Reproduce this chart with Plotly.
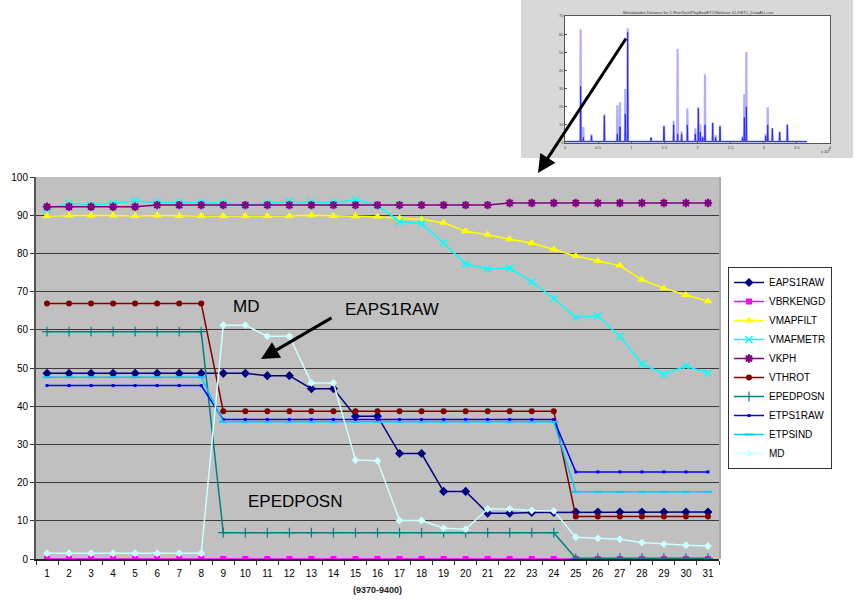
import plotly.graph_objects as go

# ---------------- data ----------------
categories = ["1", "2", "3", "4", "5", "6", "7", "8", "9", "10", "11", "12", "13", "14", "15", "16",
              "17", "18", "19", "20", "21", "22", "23", "24", "25", "26", "27", "28", "29", "30", "31"]

EAPS1RAW = [48.6, 48.6, 48.6, 48.6, 48.6, 48.6, 48.6, 48.6, 48.6, 48.6, 48.0, 48.0, 44.6, 44.6, 37.4, 37.4,
            27.6, 27.6, 17.7, 17.7, 12.0, 12.0, 12.2, 12.2, 12.3, 12.3, 12.3, 12.3, 12.3, 12.3, 12.3]
VBRKENGD = [0, 0, 0, 0, 0, 0, 0, 0, 0, 0, 0, 0, 0, 0, 0, 0,
            0, 0, 0, 0, 0, 0, 0, 0, 0, 0, 0, 0, 0, 0, 0]
VMAPFILT = [89.8, 89.9, 89.9, 89.9, 89.8, 89.9, 89.8, 89.8, 89.8, 89.8, 89.8, 89.8, 90.0, 89.8, 89.7, 89.6,
            89.2, 88.9, 88.0, 85.8, 84.9, 83.7, 82.7, 81.0, 79.3, 78.0, 76.8, 73.1, 70.9, 69.1, 67.5]
VMAFMETR = [91.6, 93.1, 92.6, 93.1, 93.7, 93.4, 93.3, 93.3, 93.2, 92.7, 93.1, 93.6, 93.4, 93.3, 94.0, 92.7,
            88.3, 87.8, 82.7, 77.2, 75.9, 76.1, 72.6, 68.2, 63.2, 63.6, 58.3, 51.1, 48.4, 50.5, 48.7]
VKPH = [92.2, 92.2, 92.2, 92.2, 92.2, 92.65, 92.65, 92.65, 92.65, 92.65, 92.65, 92.65, 92.65, 92.65, 92.65, 92.65,
        92.65, 92.65, 92.65, 92.65, 92.65, 93.2, 93.2, 93.2, 93.2, 93.2, 93.2, 93.2, 93.2, 93.2, 93.2]
VTHROT = [66.9, 66.9, 66.9, 66.9, 66.9, 66.9, 66.9, 66.9, 38.7, 38.7, 38.7, 38.7, 38.7, 38.7, 38.7, 38.7,
          38.7, 38.7, 38.7, 38.7, 38.7, 38.7, 38.7, 38.7, 11.1, 11.1, 11.1, 11.1, 11.1, 11.1, 11.1]
EPEDPOSN = [59.5, 59.5, 59.5, 59.5, 59.5, 59.5, 59.5, 59.5, 6.9, 6.9, 6.9, 6.9, 6.9, 6.9, 6.9, 6.9,
            6.9, 6.9, 6.9, 6.9, 6.9, 6.9, 6.9, 6.9, 0.2, 0.2, 0.2, 0.2, 0.2, 0.2, 0.2]
ETPS1RAW = [45.4, 45.4, 45.4, 45.4, 45.4, 45.4, 45.4, 45.4, 36.5, 36.5, 36.5, 36.5, 36.5, 36.5, 36.5, 36.5,
            36.5, 36.5, 36.5, 36.5, 36.5, 36.5, 36.5, 36.5, 22.8, 22.8, 22.8, 22.8, 22.8, 22.8, 22.8]
ETPSIND = [47.6, 47.6, 47.6, 47.6, 47.6, 47.6, 47.6, 47.6, 35.9, 35.9, 35.9, 35.9, 35.9, 35.9, 35.9, 35.9,
           35.9, 35.9, 35.9, 35.9, 35.9, 35.9, 35.9, 35.9, 17.6, 17.6, 17.6, 17.6, 17.6, 17.6, 17.6]
MD = [1.5, 1.5, 1.5, 1.5, 1.5, 1.5, 1.5, 1.5, 61.2, 61.2, 58.3, 58.3, 46.1, 46.1, 25.9, 25.7,
      10.1, 10.1, 8.05, 7.8, 13.1, 13.1, 12.7, 12.6, 5.7, 5.4, 5.2, 4.3, 3.9, 3.6, 3.4]

y_ticks = [0, 10, 20, 30, 40, 50, 60, 70, 80, 90, 100]
x_title = "(9370-9400)"

# inset (Mahalanobis distance screenshot) spikes
inset_peak_x = [0.236, 0.277, 0.40, 0.594, 0.79, 0.83, 0.91, 0.946, 1.30, 1.494, 1.64, 1.70, 1.76, 1.847, 1.967,
                2.013, 2.043, 2.08, 2.113, 2.229, 2.274, 2.34, 2.68, 2.707, 2.737, 3.03, 3.06, 3.13, 3.24, 3.356]
inset_peak_hi = [62.6, 8.8, 4.8, 15.8, 20.8, 22.5, 29.8, 63.2, 3.3, 9.8, 12.2, 51.9, 6.4, 19.0, 8.1,
                 19.7, 10.3, 3.7, 37.9, 11.4, 4.4, 9.8, 3.7, 26.9, 50.1, 5.2, 19.7, 8.1, 6.4, 10.3]
inset_peak_lo = [31.3, 3.0, 4.0, 15.0, 5.0, 9.0, 16.0, 61.0, 3.0, 9.0, 10.0, 5.0, 5.0, 10.0, 5.0,
                 19.0, 6.0, 3.0, 10.0, 11.0, 3.0, 9.0, 3.0, 14.0, 20.0, 4.0, 10.0, 8.0, 6.0, 10.0]
inset_base = 0.8
inset_end = 3.65
inset_title = "Mahalanobis Distance for C:\\FunTech\\PlayBox\\ETC\\Release 12.2\\ETC_DataALL.csv"


def spikes(heights):
    xs, ys = [0.0], [inset_base]
    for pk, h in zip(inset_peak_x, heights):
        xs += [pk - 0.006, pk, pk + 0.006]
        ys += [inset_base, h, inset_base]
    xs.append(inset_end)
    ys.append(inset_base)
    return xs, ys


# ---------------- figure ----------------
W, H = 854, 600
FONT = "Liberation Sans, Arial, sans-serif"


def px(x):
    return x / W


def py(y):
    return 1 - y / H


series = [
    ("EAPS1RAW", EAPS1RAW, "#000080", dict(symbol="diamond", size=7)),
    ("VBRKENGD", VBRKENGD, "#FF00FF", dict(symbol="square", size=6)),
    ("VMAPFILT", VMAPFILT, "#FFFF00", dict(symbol="triangle-up", size=8)),
    ("VMAFMETR", VMAFMETR, "#00FFFF", dict(symbol="x-thin-open", size=7, line=dict(width=1.5, color="#00FFFF"))),
    ("VKPH", VKPH, "#800080", dict(symbol="asterisk-open", size=7, line=dict(width=2, color="#800080"))),
    ("VTHROT", VTHROT, "#800000", dict(symbol="circle", size=6)),
    ("EPEDPOSN", EPEDPOSN, "#008080", dict(symbol="cross-thin-open", size=7, line=dict(width=1.2, color="#008080"))),
    ("ETPS1RAW", ETPS1RAW, "#0000FF", dict(symbol="square", size=3)),
    ("ETPSIND", ETPSIND, "#00CCFF", dict(symbol="line-ew-open", size=6, line=dict(width=2, color="#00CCFF"))),
    ("MD", MD, "#CCFFFF", dict(symbol="diamond", size=6)),
]

fig = go.Figure()
for name, vals, color, marker in series:
    m = dict(color=color)
    m.update(marker)
    fig.add_trace(go.Scatter(x=categories, y=vals, name=name, mode="lines+markers",
                             line=dict(color=color, width=1.5), marker=m,
                             xaxis="x", yaxis="y"))

xs_hi, ys_hi = spikes(inset_peak_hi)
xs_lo, ys_lo = spikes(inset_peak_lo)
fig.add_trace(go.Scatter(x=xs_hi, y=ys_hi, mode="lines", line=dict(color="#b0b0ff", width=2.2),
                         showlegend=False, xaxis="x2", yaxis="y2", hoverinfo="skip"))
fig.add_trace(go.Scatter(x=xs_lo, y=ys_lo, mode="lines", line=dict(color="#2a2aff", width=1),
                         showlegend=False, xaxis="x2", yaxis="y2", hoverinfo="skip"))

main_x0, main_x1, main_y0, main_y1 = 36, 719, 177, 559
ins_x0, ins_x1, ins_y0, ins_y1 = 565, 830, 16, 143

fig.update_layout(
    width=W, height=H,
    margin=dict(l=0, r=0, t=0, b=0, autoexpand=False),
    paper_bgcolor="white",
    plot_bgcolor="rgba(0,0,0,0)",
    font=dict(family=FONT, size=10, color="black"),
    showlegend=True,
    legend=dict(x=px(728), y=py(368), xanchor="left", yanchor="middle",
                bgcolor="white", bordercolor="#333333", borderwidth=1,
                font=dict(family=FONT, size=10, color="black"),
                itemwidth=30, tracegroupgap=0),
    xaxis=dict(domain=[px(main_x0), px(main_x1)], type="category", tickson="boundaries",
               range=[-0.5, len(categories) - 0.5], autorange=False,
               showgrid=False, ticks="outside", ticklen=4, tickcolor="#333333", tickangle=0,
               ticklabelstandoff=4,
               showline=True, linecolor="#222222", linewidth=1.5, automargin=False,
               tickfont=dict(size=10, family=FONT), anchor="y", fixedrange=True),
    yaxis=dict(domain=[py(main_y1), py(main_y0)], range=[0, 100], autorange=False, tickvals=y_ticks,
               showgrid=True, gridcolor="#3a3a3a", gridwidth=1, zeroline=False,
               ticks="outside", ticklen=4, tickcolor="#333333", automargin=False,
               showline=True, linecolor="#555555", linewidth=2,
               tickfont=dict(size=10, family=FONT), anchor="x", fixedrange=True),
    xaxis2=dict(domain=[px(ins_x0), px(ins_x1)], range=[0, 4], dtick=0.5, anchor="y2",
                showgrid=False, zeroline=False, showline=True, mirror=True, linecolor="#555555",
                linewidth=0.6, ticks="inside", ticklen=2, tickcolor="#555555", tickangle=0,
                automargin=False, tickfont=dict(size=4, color="#444444"), fixedrange=True),
    yaxis2=dict(domain=[py(ins_y1), py(ins_y0)], range=[0, 70], dtick=10, anchor="x2",
                showgrid=False, zeroline=False, showline=True, mirror=True, linecolor="#555555",
                linewidth=0.6, ticks="inside", ticklen=2, tickcolor="#555555",
                automargin=False, tickfont=dict(size=4, color="#444444"), fixedrange=True),
    shapes=[
        dict(type="rect", xref="paper", yref="paper", x0=px(main_x0), x1=px(main_x1),
             y0=py(main_y1), y1=py(main_y0), fillcolor="#C0C0C0",
             line=dict(width=0), layer="below"),
        dict(type="line", xref="paper", yref="paper", x0=px(main_x1 + 1), x1=px(main_x1 + 1),
             y0=py(main_y1), y1=py(main_y0), line=dict(color="#a8a8a8", width=2), layer="below"),
        dict(type="rect", xref="paper", yref="paper", x0=px(521), x1=px(853),
             y0=py(158), y1=py(0), fillcolor="#d8d8d8",
             line=dict(width=0), layer="below"),
        dict(type="rect", xref="paper", yref="paper", x0=px(ins_x0), x1=px(ins_x1),
             y0=py(ins_y1), y1=py(ins_y0), fillcolor="white",
             line=dict(width=0), layer="below"),
    ],
    annotations=[
        dict(text="<b>" + x_title + "</b>", xref="paper", yref="paper", x=px(377), y=py(590),
             showarrow=False, font=dict(size=9, family=FONT, color="#222222"),
             xanchor="center", yanchor="middle"),
        dict(text="MD", xref="paper", yref="paper", x=px(231), y=py(306),
             showarrow=False, font=dict(size=17, family=FONT, color="black"),
             xanchor="left", yanchor="middle"),
        dict(text="EAPS1RAW", xref="paper", yref="paper", x=px(343), y=py(309),
             showarrow=False, font=dict(size=17, family=FONT, color="black"),
             xanchor="left", yanchor="middle"),
        dict(text="EPEDPOSN", xref="paper", yref="paper", x=px(246), y=py(501),
             showarrow=False, font=dict(size=17, family=FONT, color="black"),
             xanchor="left", yanchor="middle"),
        dict(text="", xref="paper", yref="paper", x=px(538), y=py(173),
             ax=627 - 538, ay=37 - 173, showarrow=True, arrowhead=2, arrowsize=1.2,
             arrowwidth=3, arrowcolor="black"),
        dict(text="", xref="paper", yref="paper", x=px(261), y=py(359),
             ax=333 - 261, ay=317 - 359, showarrow=True, arrowhead=2, arrowsize=1.2,
             arrowwidth=3, arrowcolor="black"),
        dict(text=inset_title, xref="paper", yref="paper", x=px((ins_x0 + ins_x1) / 2), y=py(12),
             showarrow=False, font=dict(size=4, family=FONT, color="#333333"),
             xanchor="center", yanchor="middle"),
        dict(text="x 10<sup>4</sup>", xref="paper", yref="paper", x=px(826), y=py(151),
             showarrow=False, font=dict(size=4, family=FONT, color="#333333"),
             xanchor="center", yanchor="middle"),
    ],
)

fig.write_html("out.html", config={"displayModeBar": False},
               post_script="document.body.style.margin='0';document.body.style.padding='0';")
